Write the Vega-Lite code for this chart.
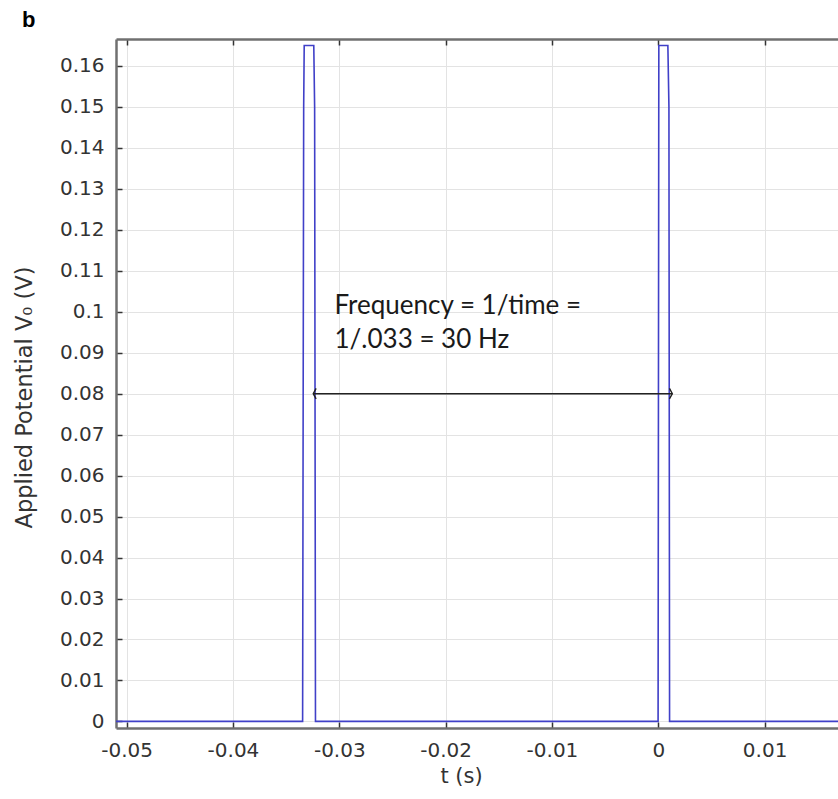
{
  "$schema": "https://vega.github.io/schema/vega-lite/v6.json",
  "width": 722,
  "height": 689,
  "autosize": "none",
  "padding": {"left": 116, "top": 39, "right": 0, "bottom": 71},
  "background": "white",
  "title": {"text": "b", "anchor": "start", "frame": "group", "fontSize": 22, "fontWeight": "bold", "font": "Liberation Sans", "color": "#000000", "dx": -94, "offset": 6},
  "config": {"view": {"stroke": null}},
  "datasets": {
    "signal": [
      {"t": -0.0510, "v": 0},
      {"t": -0.03345, "v": 0},
      {"t": -0.03335, "v": 0.150},
      {"t": -0.03330, "v": 0.165},
      {"t": -0.03240, "v": 0.165},
      {"t": -0.03232, "v": 0.150},
      {"t": -0.03224, "v": 0},
      {"t": -0.00002, "v": 0},
      {"t": 0.00005, "v": 0.165},
      {"t": 0.00090, "v": 0.165},
      {"t": 0.00100, "v": 0.150},
      {"t": 0.00106, "v": 0},
      {"t": 0.0169, "v": 0}
    ],
    "arrow": [{"t1": -0.03245, "t2": 0.00132, "v": 0.08}],
    "heads": [
      {"t": -0.03245, "v": 0.08, "dir": "left"},
      {"t": 0.00132, "v": 0.08, "dir": "right"}
    ],
    "note": [
      {"t": -0.03045, "v": 0.1015, "label": "Frequency = 1/time ="},
      {"t": -0.03045, "v": 0.0932, "label": "1/.033 = 30 Hz"}
    ]
  },
  "resolve": {"axis": {"x": "independent"}},
  "layer": [
    {
      "data": {"name": "signal"},
      "mark": {"type": "line", "color": "#4040c8", "strokeWidth": 1.6, "clip": true},
      "encoding": {
        "x": {
          "field": "t", "type": "quantitative",
          "scale": {"domain": [-0.0510, 0.0169], "nice": false, "zero": false},
          "axis": {
            "orient": "bottom",
            "title": "t (s)",
            "values": [-0.05, -0.04, -0.03, -0.02, -0.01, 0, 0.01],
            "labelExpr": "datum.value + ''",
            "labelFont": "DejaVu Sans", "labelFontSize": 20, "labelColor": "#333333",
            "labelPadding": 18,
            "tickSize": -6, "tickColor": "#333333", "tickWidth": 1.5,
            "domainColor": "#707070", "domainWidth": 2.5,
            "grid": true, "gridColor": "#e3e3e3", "gridWidth": 1,
            "titleFont": "DejaVu Sans", "titleFontSize": 21, "titleFontWeight": "normal", "titleColor": "#333333",
            "titleX": 345, "titleY": 48, "titleBaseline": "middle", "titleAlign": "center"
          }
        },
        "y": {
          "field": "v", "type": "quantitative",
          "scale": {"domain": [-0.00161, 0.16659], "nice": false, "zero": false},
          "axis": {
            "title": "Applied Potential V₀ (V)",
            "values": [0, 0.01, 0.02, 0.03, 0.04, 0.05, 0.06, 0.07, 0.08, 0.09, 0.1, 0.11, 0.12, 0.13, 0.14, 0.15, 0.16],
            "labelExpr": "datum.value + ''",
            "labelFont": "DejaVu Sans", "labelFontSize": 20, "labelColor": "#333333",
            "labelPadding": 18,
            "tickSize": -6, "tickColor": "#333333", "tickWidth": 1.5,
            "domainColor": "#707070", "domainWidth": 2.5,
            "grid": true, "gridColor": "#e3e3e3", "gridWidth": 1,
            "titleFont": "DejaVu Sans", "titleFontSize": 22.5, "titleFontWeight": "normal", "titleColor": "#333333",
            "titleX": -92, "titleY": 358, "titleBaseline": "middle", "titleAlign": "center", "titleAngle": -90
          }
        }
      }
    },
    {
      "data": {"name": "arrow"},
      "mark": {"type": "rule", "color": "#222222", "strokeWidth": 1.4},
      "encoding": {
        "x": {"field": "t1", "type": "quantitative",
          "axis": {"orient": "top", "title": null, "labels": false, "grid": false,
            "values": [-0.05, -0.04, -0.03, -0.02, -0.01, 0, 0.01],
            "tickSize": -6, "tickColor": "#333333", "tickWidth": 1.5,
            "domainColor": "#707070", "domainWidth": 2.5}},
        "x2": {"field": "t2"},
        "y": {"field": "v", "type": "quantitative"}
      }
    },
    {
      "data": {"name": "heads"},
      "mark": {"type": "point", "filled": false, "stroke": "#222222", "strokeWidth": 1.4, "size": 110, "opacity": 1},
      "encoding": {
        "x": {"field": "t", "type": "quantitative", "axis": null},
        "y": {"field": "v", "type": "quantitative"},
        "shape": {"field": "dir", "type": "nominal", "legend": null,
          "scale": {"domain": ["left", "right"], "range": ["M0.55,-1L0,0L0.55,1", "M-0.55,-1L0,0L-0.55,1"]}}
      }
    },
    {
      "data": {"name": "note"},
      "mark": {"type": "text", "align": "left", "baseline": "middle", "font": "Lato", "fontSize": 26, "color": "#1a1a1a"},
      "encoding": {
        "x": {"field": "t", "type": "quantitative", "axis": null},
        "y": {"field": "v", "type": "quantitative"},
        "text": {"field": "label"}
      }
    }
  ]
}
